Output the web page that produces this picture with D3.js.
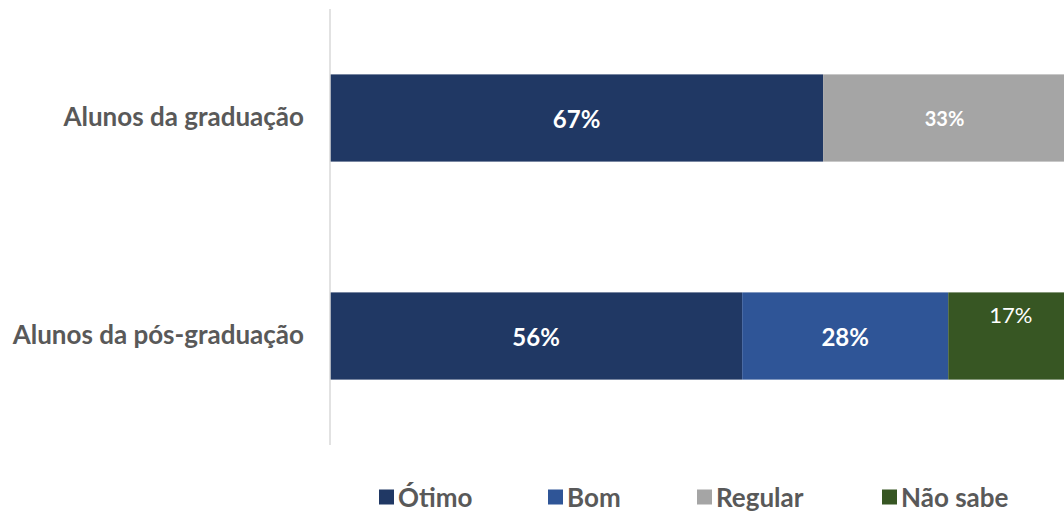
<!DOCTYPE html>
<html>
<head>
<meta charset="utf-8">
<script src="https://cdn.jsdelivr.net/npm/d3@7"></script>
<style>
  html, body { margin: 0; padding: 0; background: #fff; }
  svg { display: block; }
</style>
</head>
<body>
<svg id="chart" width="1064" height="512"></svg>
<script>
// Avaliação por grupo de alunos (percentual)
const categories = ["Alunos da graduação", "Alunos da pós-graduação"];
const seriesNames = ["Ótimo", "Bom", "Regular", "Não sabe"];
const otimo   = [67, 56];
const bom     = [0, 28];
const regular = [33, 0];
const naoSabe = [0, 17];
const colors = ["#203864", "#2F5597", "#A5A5A5", "#375623"];

const seriesValues = [otimo, bom, regular, naoSabe];
const rows = categories.map((c, i) => {
  const r = { cat: c };
  seriesNames.forEach((s, k) => { r[s] = seriesValues[k][i]; });
  return r;
});

const svg = d3.select("#chart");
const W = 1064, H = 512;
const font = "Lato, 'Open Sans', sans-serif";

const x = d3.scaleLinear().domain([0, 100]).range([330, 330 + 736]);
const y = d3.scaleBand().domain(categories).range([9, 445]).paddingInner(0.6).paddingOuter(0.3);

const stack = d3.stack().keys(seriesNames)(rows);

svg.append("defs").append("clipPath").attr("id", "plotClip")
  .append("rect").attr("x", 0).attr("y", 0).attr("width", W).attr("height", H);

const plot = svg.append("g").attr("clip-path", "url(#plotClip)");

// Bars
stack.forEach((layer, k) => {
  plot.selectAll(null)
    .data(layer.filter(d => d[1] - d[0] > 0))
    .join("rect")
    .attr("x", d => x(d[0]))
    .attr("y", d => y(d.data.cat))
    .attr("width", d => x(d[1]) - x(d[0]))
    .attr("height", y.bandwidth())
    .attr("fill", colors[k]);
});

// Value labels
const labelStyle = {
  "Ótimo":    { size: 24, weight: 700, dy: 0 },
  "Bom":      { size: 24, weight: 700, dy: 0 },
  "Regular":  { size: 20, weight: 700, dy: 0 },
  "Não sabe": { size: 22, weight: 400, dy: -22 }
};
stack.forEach((layer, k) => {
  const st = labelStyle[seriesNames[k]];
  plot.selectAll(null)
    .data(layer.filter(d => d[1] - d[0] > 0))
    .join("text")
    .attr("x", d => x((d[0] + d[1]) / 2))
    .attr("y", d => y(d.data.cat) + y.bandwidth() / 2 + st.dy)
    .attr("text-anchor", "middle")
    .attr("dominant-baseline", "central")
    .attr("fill", "#fff")
    .attr("font-family", font)
    .attr("font-size", st.size)
    .attr("font-weight", st.weight)
    .text(d => (d[1] - d[0]) + "%");
});

// Category axis
const axis = svg.append("g").attr("transform", "translate(330,0)")
  .call(d3.axisLeft(y).tickSize(0).tickPadding(26));
axis.select(".domain").attr("stroke", "#D9D9D9").attr("stroke-width", 1.5)
  .attr("d", "M0,9V445");
axis.selectAll("text")
  .attr("font-family", font)
  .attr("font-size", 26)
  .attr("font-weight", 700)
  .attr("fill", "#595959");

// Legend
const legendX = [379, 548, 697, 882];
const legend = svg.append("g");
seriesNames.forEach((s, k) => {
  const g = legend.append("g").attr("transform", `translate(${legendX[k]},497)`);
  g.append("rect").attr("x", 0).attr("y", -7.5).attr("width", 15).attr("height", 15).attr("fill", colors[k]);
  g.append("text").attr("x", 19).attr("y", 0)
    .attr("dominant-baseline", "central")
    .attr("font-family", font)
    .attr("font-size", 26)
    .attr("font-weight", 700)
    .attr("fill", "#595959")
    .text(s);
});
</script>
</body>
</html>
